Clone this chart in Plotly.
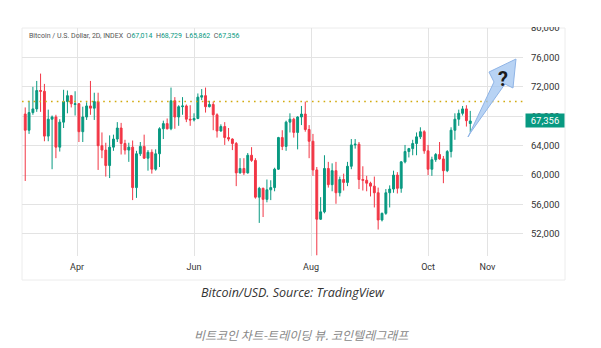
import pandas as pd
import plotly.graph_objects as go

# Bitcoin / U.S. Dollar, 2-day candles (INDEX)
opens = [
    68300, 66100, 68500, 69000, 71500, 71400, 65300, 67600, 67900, 63800,
    67200, 70000, 70800, 69600, 69700, 65900, 67900, 69400, 69100, 70000,
    64000, 63400, 61300, 63800, 64900, 66400, 64300, 63400, 63800, 58300,
    62900, 63900, 62300, 63100, 60800, 62900, 66300, 67000, 66300, 70100,
    67900, 69300, 69400, 67600, 67500, 67700, 70600, 70800, 69300, 69600,
    68200, 66000, 66600, 65100, 64900, 64300, 60300, 60900, 60300, 62700,
    62000, 57000, 58200, 56700, 58000, 58300, 60800, 65100, 63900, 67200,
    67600, 65800, 67900, 68300, 66200, 64600, 60700, 54000, 55000, 60900,
    58700, 60600, 57600, 59400, 59000, 61200, 64100, 64200, 59400, 59300,
    58900, 58500, 57600, 53900, 54800, 57600, 58100, 60000, 58200, 61800,
    63200, 63600, 64300, 65200, 65900, 63300, 60800, 62100, 62800, 62200,
    60600, 63200, 66100, 67600, 68400, 69000, 67014,
]
highs = [
    69200, 70100, 72000, 72800, 73800, 72400, 68900, 68100, 68200, 67600,
    71600, 71500, 70900, 71400, 69800, 69300, 69900, 72800, 71200, 71200,
    65800, 64400, 65400, 65500, 67200, 67100, 64800, 64400, 64700, 63300,
    64500, 65500, 63400, 63500, 63500, 66500, 67400, 67700, 71900, 70600,
    69500, 70600, 69600, 69500, 68400, 71100, 71700, 71900, 70100, 70000,
    68400, 66900, 67200, 66400, 65000, 64500, 62300, 62300, 63000, 63800,
    62300, 58400, 58300, 59400, 59300, 61000, 65200, 66100, 67400, 68400,
    67800, 68000, 69400, 70000, 66800, 65600, 61100, 57000, 62700, 61800,
    61600, 61800, 59800, 60200, 61800, 64900, 64900, 64500, 61200, 59900,
    59100, 59800, 58300, 54900, 58100, 58600, 60600, 60400, 61900, 64100,
    63700, 64800, 65800, 66500, 66100, 64100, 62500, 63000, 64500, 62600,
    63400, 66500, 68400, 68900, 69400, 69500, 68729,
]
lows = [
    59200, 65600, 68200, 68600, 68600, 64600, 64600, 60800, 62300, 63200,
    66400, 68400, 69200, 68100, 64500, 64500, 67500, 68200, 67500, 60700,
    62300, 59800, 59600, 63300, 64500, 62800, 62800, 61800, 56600, 56900,
    62600, 62200, 60600, 60200, 60600, 61100, 64900, 66200, 66100, 66300,
    66700, 68200, 67200, 66700, 67300, 67600, 70200, 68500, 69200, 66100,
    65100, 65900, 64100, 64600, 63400, 58500, 60200, 60000, 60200, 61800,
    56800, 53500, 54300, 56300, 56600, 57800, 60700, 63400, 63300, 65800,
    65100, 63500, 66800, 65900, 62300, 59900, 49100, 53900, 54800, 58300,
    57800, 56100, 57100, 57900, 58500, 60800, 63600, 58100, 57900, 57800,
    57100, 55600, 52600, 53700, 54600, 55600, 57600, 57500, 57600, 61600,
    62400, 62700, 62700, 64900, 62900, 60000, 59900, 61800, 62100, 58900,
    60400, 62400, 64800, 66700, 68100, 66600, 65862,
]
closes = [
    66100, 68500, 69000, 71500, 71400, 65300, 67600, 67900, 63800, 67200,
    70000, 70800, 69700, 69700, 65900, 67900, 69400, 69100, 70000, 64000,
    63400, 61300, 63800, 64900, 66400, 64300, 63400, 63800, 58300, 62900,
    63900, 62300, 63100, 60800, 62900, 66300, 67000, 66300, 70100, 67900,
    69300, 69400, 67600, 67500, 67700, 70600, 70800, 69300, 69600, 68200,
    66000, 66600, 65100, 64900, 64300, 60300, 60900, 60300, 62700, 62000,
    57000, 58200, 56700, 58000, 58300, 60800, 65100, 63900, 67200, 67600,
    65800, 67900, 68300, 66200, 64600, 60700, 54000, 55000, 60900, 58700,
    60600, 57600, 59400, 59000, 61200, 64100, 64200, 59400, 59300, 58900,
    58500, 57600, 53900, 54800, 57600, 58100, 60000, 58200, 61800, 63200,
    63600, 64300, 65200, 65900, 63300, 60800, 62100, 62800, 62200, 60600,
    63200, 66100, 67600, 68400, 69000, 67400, 67356,
]
dates = pd.date_range("2024-03-05", periods=len(opens), freq="2D")

resistance = 70000
month_ticks = ["2024-04-01", "2024-06-01", "2024-08-01", "2024-10-01", "2024-11-01"]
month_labels = ["Apr", "Jun", "Aug", "Oct", "Nov"]
price_ticks = list(range(52000, 80001, 4000))

UP = "#089981"
DOWN = "#F23645"
GRID = "#e3e3e3"
FONT = "Roboto"

fig = go.Figure(
    go.Candlestick(
        x=dates, open=opens, high=highs, low=lows, close=closes,
        increasing=dict(line=dict(color=UP, width=1), fillcolor=UP),
        decreasing=dict(line=dict(color=DOWN, width=1), fillcolor=DOWN),
        whiskerwidth=0, showlegend=False, hoverinfo="skip",
    )
)

# plot area in pixels: x 22..523, y 28..256
L, R, T, B = 22, 78, 28, 92
W, H = 601, 348
PW, PH = W - L - R, H - T - B


def px(x):
    return (x - L) / PW


def py(y):
    return (H - B - y) / PH


# up arrow drawn next to the latest candle
arrow_pts = [(468, 137), (494, 82), (489, 72), (516, 59), (513, 88), (505, 84), (471, 132)]
arrow_path = "M " + " L ".join(f"{px(x):.4f},{py(y):.4f}" for x, y in arrow_pts) + " Z"

fig.update_layout(
    width=W, height=H,
    margin=dict(l=L, r=R, t=T, b=B),
    paper_bgcolor="white", plot_bgcolor="white",
    font=dict(family=FONT, color="#333"),
    xaxis=dict(
        type="date",
        range=["2024-03-03 07:40", "2024-11-19 12:00"],
        tickvals=month_ticks, ticktext=month_labels,
        showgrid=True, gridcolor=GRID, gridwidth=1,
        zeroline=False, showline=False, ticks="",
        tickfont=dict(size=9, color="#333", family=FONT),
        ticklabelstandoff=4,
        rangeslider=dict(visible=False),
    ),
    yaxis=dict(
        side="right",
        range=[49000, 80000],
        tickvals=price_ticks, ticktext=[f"{v:,}" for v in price_ticks],
        showgrid=True, gridcolor=GRID, gridwidth=1,
        zeroline=False, showline=False, ticks="",
        tickfont=dict(size=9.5, color="#333", family=FONT),
        ticklabelstandoff=7,
    ),
    shapes=[
        # screenshot frame
        dict(type="rect", xref="paper", yref="paper",
             x0=0, x1=px(565), y0=py(280), y1=1,
             line=dict(color="#ececec", width=1), layer="below"),
        # resistance level
        dict(type="line", xref="paper", yref="y", x0=0, x1=1,
             y0=resistance, y1=resistance,
             line=dict(color="#d2ab10", width=1.6, dash="1.6px,4.2px")),
        # top edge cuts off the highest price label
        dict(type="rect", xref="paper", yref="paper",
             x0=1.002, x1=1.2, y0=py(27), y1=1.2,
             fillcolor="white", line=dict(width=0), layer="above"),
        dict(type="path", xref="paper", yref="paper", path=arrow_path,
             fillcolor="rgba(160,196,240,0.75)",
             line=dict(color="#8fb4e6", width=1), layer="above"),
    ],
    annotations=[
        dict(xref="paper", yref="paper", x=px(27), y=py(36),
             xanchor="left", yanchor="middle", showarrow=False,
             text=("Bitcoin / U.S. Dollar, 2D, INDEX  "
                   f"O<span style='color:{UP}'>{opens[-1]:,}</span>  "
                   f"H<span style='color:{UP}'>{highs[-1]:,}</span>  "
                   f"L<span style='color:{UP}'>{lows[-1]:,}</span>  "
                   f"C<span style='color:{UP}'>{closes[-1]:,}</span>"),
             font=dict(size=7, color="#555", family=FONT)),
        dict(xref="paper", yref="y", x=1, y=closes[-1], xshift=2,
             xanchor="left", yanchor="middle", showarrow=False,
             text=f"{closes[-1]:,}", bgcolor=UP, width=36, height=11,
             borderpad=1, align="center",
             font=dict(size=9.5, color="white", family=FONT)),
        dict(xref="paper", yref="paper", x=px(503), y=py(79),
             xanchor="center", yanchor="middle", showarrow=False,
             text="<b>?</b>", font=dict(size=20, color="#1b1b1b", family=FONT)),
        dict(xref="paper", yref="paper", x=px(293), y=py(292),
             xanchor="center", yanchor="middle", showarrow=False,
             text="<i>Bitcoin/USD. Source: TradingView</i>",
             font=dict(size=12.5, color="#333", family="Open Sans")),
        dict(xref="paper", yref="paper", x=px(301), y=py(334),
             xanchor="center", yanchor="middle", showarrow=False,
             text="<i>비트코인 차트-트레이딩 뷰. 코인텔레그래프</i>",
             font=dict(size=12, color="#888", family="Noto Sans CJK KR")),
    ],
)

fig.write_html("out.html")
